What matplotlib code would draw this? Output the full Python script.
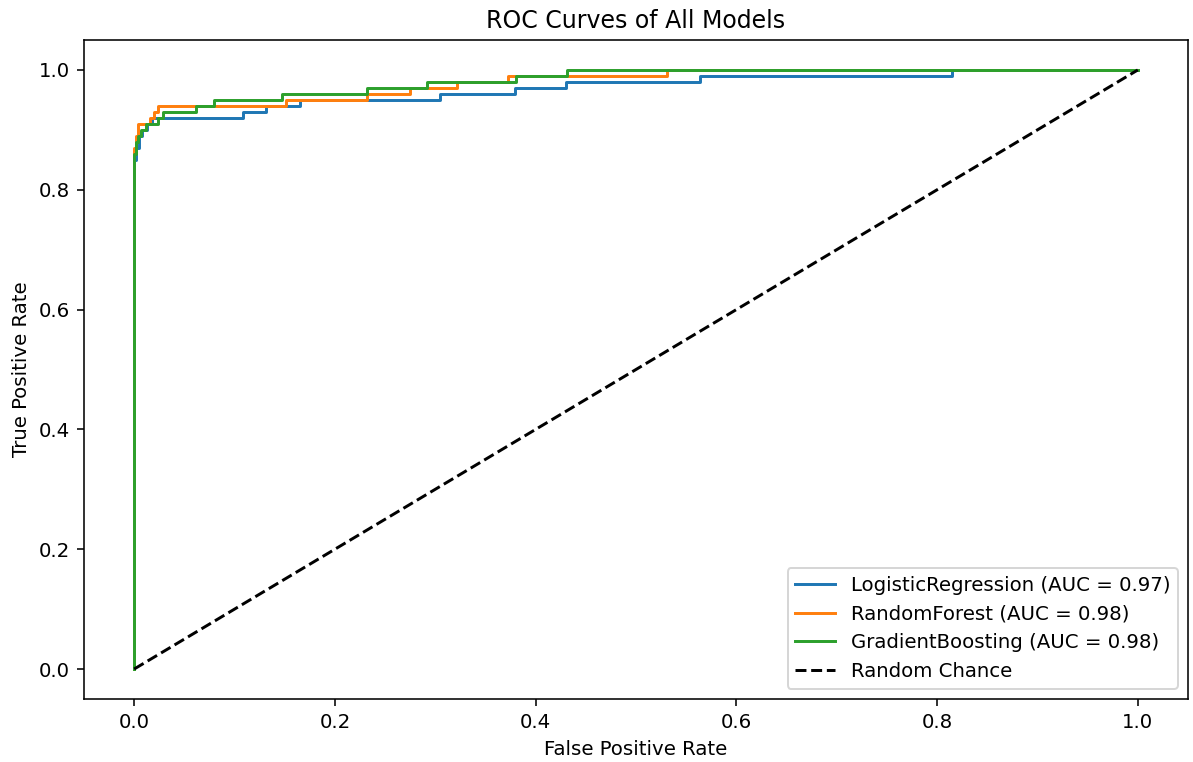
import numpy as np
import matplotlib
matplotlib.use("Agg")
import matplotlib.pyplot as plt

# Puntos de las curvas ROC (esquinas de cada escalón)
lr_fpr = [0, 0, 0.002, 0.002, 0.005, 0.005, 0.008, 0.008, 0.013, 0.013, 0.018, 0.018,
          0.108, 0.108, 0.131, 0.131, 0.165, 0.165, 0.305, 0.305, 0.379, 0.379,
          0.430, 0.430, 0.564, 0.564, 0.815, 0.815, 1.0]
lr_tpr = [0, 0.85, 0.85, 0.87, 0.87, 0.89, 0.89, 0.90, 0.90, 0.91, 0.91, 0.92,
          0.92, 0.93, 0.93, 0.94, 0.94, 0.95, 0.95, 0.96, 0.96, 0.97,
          0.97, 0.98, 0.98, 0.99, 0.99, 1.0, 1.0]

rf_fpr = [0, 0, 0.002, 0.002, 0.004, 0.004, 0.016, 0.016, 0.020, 0.020, 0.024, 0.024,
          0.151, 0.151, 0.232, 0.232, 0.275, 0.275, 0.322, 0.322, 0.372, 0.372,
          0.531, 0.531, 1.0]
rf_tpr = [0, 0.87, 0.87, 0.89, 0.89, 0.91, 0.91, 0.92, 0.92, 0.93, 0.93, 0.94,
          0.94, 0.95, 0.95, 0.96, 0.96, 0.97, 0.97, 0.98, 0.98, 0.99,
          0.99, 1.0, 1.0]

gb_fpr = [0, 0, 0.002, 0.002, 0.004, 0.004, 0.007, 0.007, 0.012, 0.012, 0.024, 0.024,
          0.029, 0.029, 0.062, 0.062, 0.080, 0.080, 0.147, 0.147, 0.232, 0.232,
          0.292, 0.292, 0.380, 0.380, 0.431, 0.431, 1.0]
gb_tpr = [0, 0.86, 0.86, 0.88, 0.88, 0.89, 0.89, 0.90, 0.90, 0.91, 0.91, 0.92,
          0.92, 0.93, 0.93, 0.94, 0.94, 0.95, 0.95, 0.96, 0.96, 0.97,
          0.97, 0.98, 0.98, 0.99, 0.99, 1.0, 1.0]

modelos = ["LogisticRegression", "RandomForest", "GradientBoosting"]
aucs = [0.97, 0.98, 0.98]
curvas = [(lr_fpr, lr_tpr), (rf_fpr, rf_tpr), (gb_fpr, gb_tpr)]

# Graficar
DPI = 142
fig = plt.figure(figsize=(1193 / DPI, 762 / DPI), dpi=DPI)
ax = fig.add_axes([0.0704, 0.0827, 0.9254, 0.8648])
for nombre, auc, (fpr, tpr) in zip(modelos, aucs, curvas):
    ax.plot(fpr, tpr, label=f"{nombre} (AUC = {auc:.2f})")
ax.plot([0, 1], [0, 1], 'k--', label='Random Chance')
ax.set_title('ROC Curves of All Models')
ax.set_xlabel('False Positive Rate')
ax.set_ylabel('True Positive Rate')
ax.legend(loc='lower right')
fig.savefig('out.png', dpi=DPI)
